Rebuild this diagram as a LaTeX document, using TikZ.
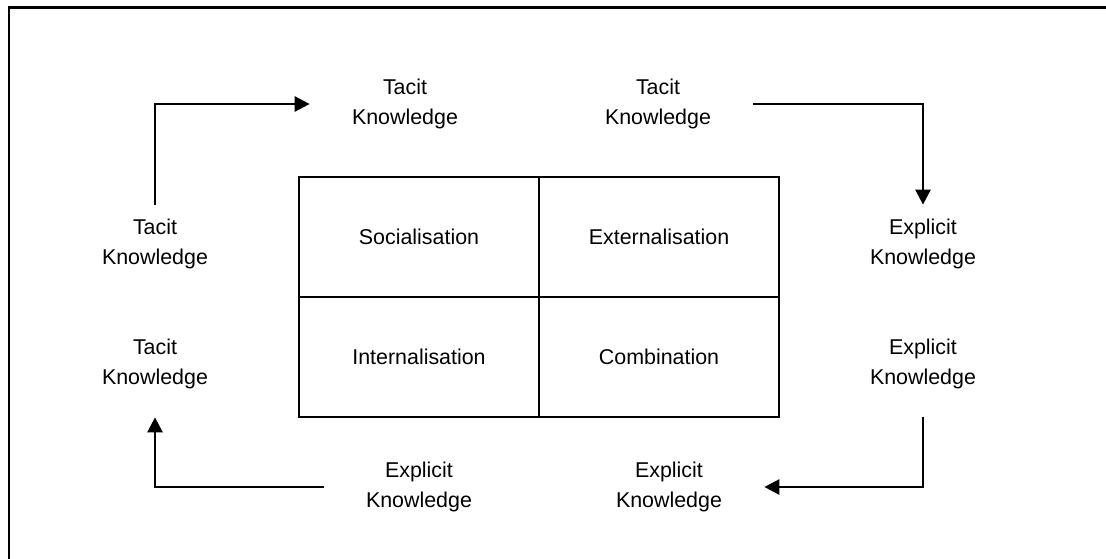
\documentclass[tikz,border=0pt]{standalone}
\usepackage{fontspec}
\setmainfont{Liberation Sans}
\usetikzlibrary{arrows.meta, positioning}

\begin{document}
\begin{tikzpicture}[
    x=0.5pt, y=-0.5pt,
    every node/.style={font=\fontsize{10.7pt}{15pt}\selectfont, align=center},
    cellbox/.style={rectangle, draw=black, line width=1pt, minimum width=120pt, minimum height=60pt, inner sep=0pt, outer sep=0pt},
    labelbox/.style={rectangle, inner xsep=21pt, inner ysep=7pt},
    arrow/.style={-{Triangle[length=7.5pt, width=7.5pt]}, draw=black, line width=1.3pt},
    frame/.style={draw=black, line width=1.3pt}
  ]
    \useasboundingbox (0,0) rectangle (1106,558);

    % Frame (left and top edges only)
    \coordinate (frameSW) at (9,560);
    \coordinate (frameNE) at (1108,7.5);
    \draw[frame] (frameSW) |- (frameNE);

    % Centre: 2x2 conversion matrix
    \node[cellbox] (soc) at (419,237) {Socialisation};
    \node[cellbox, right=0pt of soc] (ext) {Externalisation};
    \node[cellbox, below=0pt of soc] (int) {Internalisation};
    \node[cellbox, right=0pt of int] (com) {Combination};

    % Labels round the matrix
    \node[labelbox] (tacitTopL) at (405,104) {Tacit\\Knowledge};
    \node[labelbox] (tacitTopR) at (658,104) {Tacit\\Knowledge};
    \node[labelbox] (explRightU) at (923,244) {Explicit\\Knowledge};
    \node[labelbox] (explRightL) at (923,364) {Explicit\\Knowledge};
    \node[labelbox] (explBotR) at (669,487) {Explicit\\Knowledge};
    \node[labelbox] (explBotL) at (419,487) {Explicit\\Knowledge};
    \node[labelbox] (tacitLeftL) at (155,364) {Tacit\\Knowledge};
    \node[labelbox] (tacitLeftU) at (155,244) {Tacit\\Knowledge};

    % Connections
    \draw[arrow] (tacitLeftU) |- (tacitTopL);
    \draw[arrow] (tacitTopR) -| (explRightU);
    \draw[arrow, shorten <=7pt] (explRightL) |- (explBotR);
    \draw[arrow, shorten >=7pt] (explBotL) -| (tacitLeftL);
  \end{tikzpicture}
\end{document}
